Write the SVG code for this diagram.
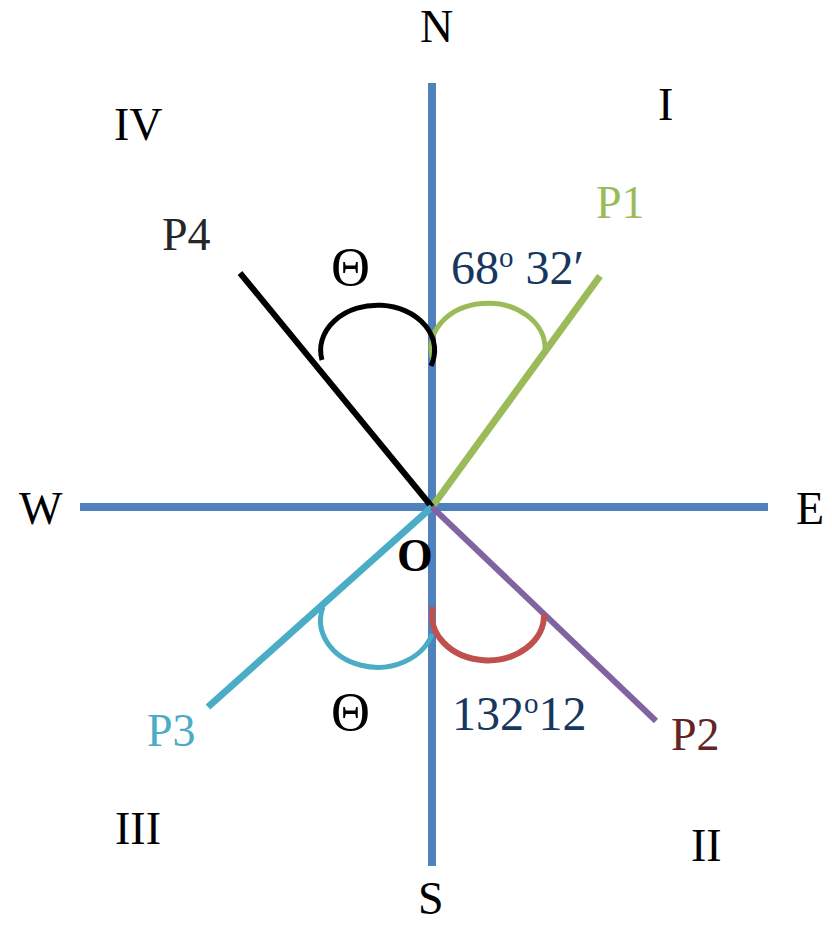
<svg xmlns="http://www.w3.org/2000/svg" width="832" height="926" viewBox="0 0 832 926">
<style>
text{font-family:"Liberation Serif","Times New Roman",serif;font-size:46px}
.k{fill:#000}
.navy{fill:#17375E;font-size:48px}
.p1{fill:#9BBB59}
.p2{fill:#632523}
.p3{fill:#4BACC6}
.p4{fill:#262626}
.th{font-size:54px}
.ln{fill:none;stroke-linecap:butt}
.sup{font-size:29px}
</style>
<rect width="832" height="926" fill="#fff"/>
<g id="connectors">
<line class="ln" x1="432" y1="83" x2="432" y2="866" stroke="#4F81BD" stroke-width="8"/>
<line class="ln" x1="80" y1="507" x2="768" y2="507" stroke="#4F81BD" stroke-width="8"/>
<line class="ln" x1="432" y1="507" x2="600" y2="276" stroke="#9BBB59" stroke-width="7"/>
<line class="ln" x1="432" y1="507" x2="240" y2="273" stroke="#000" stroke-width="6"/>
<line class="ln" x1="432" y1="507" x2="208" y2="707" stroke="#4BACC6" stroke-width="7"/>
<line class="ln" x1="432" y1="507" x2="656" y2="721" stroke="#8064A2" stroke-width="6"/>
<path class="ln" d="M433,360 A57,45 0 1 1 545,350" stroke="#9BBB59" stroke-width="5"/>
<path class="ln" d="M322,360 A57,45 0 1 1 431,366" stroke="#000" stroke-width="5"/>
<path class="ln" d="M323,607 A56,46 0 1 0 432,634" stroke="#4BACC6" stroke-width="5"/>
<path class="ln" d="M433,607 A56,45 0 1 0 544,614" stroke="#C0504D" stroke-width="6"/>
</g>
<g id="N"><text class="k" x="420" y="42">N</text></g>
<g id="S"><text class="k" x="418" y="914" font-size="44">S</text></g>
<g id="W"><text class="k" x="19" y="524">W</text></g>
<g id="E"><text class="k" x="796" y="524">E</text></g>
<g id="O"><text class="k" x="397" y="571" font-weight="bold">O</text></g>
<g id="q1"><text class="k" x="658" y="120">I</text></g>
<g id="q2"><text class="k" x="691" y="861">II</text></g>
<g id="q3"><text class="k" x="115" y="844">III</text></g>
<g id="q4"><text class="k" x="114" y="140">IV</text></g>
<g id="P1"><text class="p1" x="596" y="218">P1</text></g>
<g id="P2"><text class="p2" x="671" y="750">P2</text></g>
<g id="P3"><text class="p3" x="147" y="746">P3</text></g>
<g id="P4"><text class="p4" x="162" y="250">P4</text></g>
<g id="theta1"><text class="k th" x="331" y="285">Θ</text></g>
<g id="theta2"><text class="k th" x="331" y="730">Θ</text></g>
<g id="angle1"><text class="navy" x="451" y="284">68<tspan class="sup" dy="-17">o</tspan><tspan dy="17"> 32′</tspan></text></g>
<g id="angle2"><text class="navy" x="452" y="730">132<tspan class="sup" dy="-17">o</tspan><tspan dy="17">12</tspan></text></g>
</svg>
